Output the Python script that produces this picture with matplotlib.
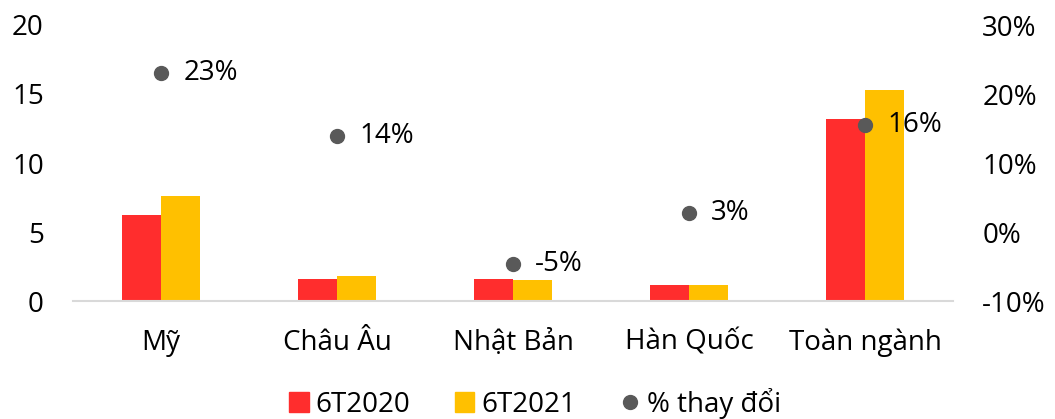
import matplotlib.pyplot as plt
import numpy as np
from matplotlib.lines import Line2D
from matplotlib.patches import Patch

plt.rcParams['font.family'] = ['Open Sans', 'DejaVu Sans']

thi_truong = ["Mỹ", "Châu Âu", "Nhật Bản", "Hàn Quốc", "Toàn ngành"]
t2020 = [6.2, 1.6, 1.6, 1.15, 13.2]
t2021 = [7.6, 1.8, 1.5, 1.15, 15.3]
thay_doi = [0.23, 0.139, -0.046, 0.028, 0.155]
nhan = ["23%", "14%", "-5%", "3%", "16%"]

do = "#FF2D2D"
vang = "#FFC000"
xam = "#595959"
fs = 20

fig = plt.figure(figsize=(10.55, 4.19), dpi=100)
ax = fig.add_axes([73/1055, 1-301/419, 880/1055, 276/419])
ax2 = ax.twinx()

x = np.arange(len(thi_truong))
w = 0.22
ax.bar(x - w/2, t2020, w, color=do)
ax.bar(x + w/2, t2021, w, color=vang)
ax.set_xlim(-0.5, len(thi_truong) - 0.5)
ax.set_ylim(0, 20)
ax.set_yticks([0, 5, 10, 15, 20])
ax.set_xticks(x)
ax.set_xticklabels(thi_truong)

ax2.plot(x, thay_doi, "o", color=xam, markersize=10, zorder=5)
for xi, yi, t in zip(x, thay_doi, nhan):
    ax2.annotate(t, (xi, yi), xytext=(16, 0), textcoords="offset points",
                 va="center", ha="left", fontsize=fs)
ax2.set_ylim(-0.1, 0.3)
ax2.set_yticks([-0.1, 0, 0.1, 0.2, 0.3])
ax2.set_yticklabels(["-10%", "0%", "10%", "20%", "30%"])

for a in (ax, ax2):
    for s in a.spines.values():
        s.set_visible(False)
    a.tick_params(length=0, labelsize=fs)
ax.spines["bottom"].set_visible(True)
ax.spines["bottom"].set_color("#D9D9D9")
ax.spines["bottom"].set_linewidth(1.5)
ax.tick_params(axis="y", pad=21)
ax.tick_params(axis="x", pad=20)
ax2.tick_params(axis="y", pad=21)

handles = [Patch(color=do, label="6T2020"),
           Patch(color=vang, label="6T2021"),
           Line2D([], [], marker="o", color=xam, linestyle="none", markersize=10, label="% thay đổi")]
fig.legend(handles=handles, loc="center", bbox_to_anchor=(535/1055, 1-403/419), ncol=3,
           frameon=False, fontsize=fs, handlelength=0.7, handleheight=0.7,
           handletextpad=0.25, columnspacing=1.6)

fig.savefig("out.png", dpi=100)
